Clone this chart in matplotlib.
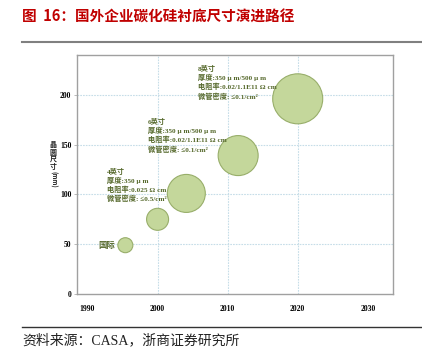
import matplotlib
matplotlib.use("Agg")
import matplotlib.pyplot as plt
from matplotlib.lines import Line2D

plt.rcParams['font.family'] = ['Noto Sans CJK SC', 'DejaVu Sans']

# === 数据 ===
years = [1995.4, 2000, 2004.1, 2011.5, 2020]
wafer_mm = [49, 75, 101, 139, 196]
bubble_r = [7.5, 11, 19, 20, 25]   # 气泡半径(px)
y_ticks = [0, 50, 100, 150, 200]
x_ticks = [1990, 2000, 2010, 2020, 2030]
x_grid = [2000, 2010, 2020]

title = "图  16：国外企业碳化硅衬底尺寸演进路径"
source = "资料来源：CASA，浙商证券研究所"
ylabel_chars = "晶圆尺寸"
notes = [
    ("4英寸\n厚度:350 μ m\n电阻率:0.025 Ω cm\n微管密度: ≤0.5/cm²", 1992.8, 127),
    ("6英寸\n厚度:350 μ m/500 μ m\n电阻率:0.02/1.1E11 Ω cm\n微管密度: ≤0.1/cm²", 1998.6, 177),
    ("8英寸\n厚度:350 μ m/500 μ m\n电阻率:0.02/1.1E11 Ω cm\n微管密度: ≤0.1/cm²", 2005.8, 230),
]

W, H = 422, 353
fig = plt.figure(figsize=(W / 100, H / 100), dpi=100)
ax = fig.add_axes([77 / W, 1 - 294 / H, (393 - 77) / W, (294 - 55) / H])

ax.set_xlim(1988.5, 2033.6)
ax.set_ylim(0, 240)

for y in y_ticks[1:]:
    ax.axhline(y, color='#c6dde8', lw=0.8, ls=(0, (1.5, 1)), zorder=0)
for x in x_grid:
    ax.axvline(x, color='#c6dde8', lw=0.8, ls=(0, (1.5, 1)), zorder=0)

sizes = [(2 * r * 0.72) ** 2 for r in bubble_r]
ax.scatter(years, wafer_mm, s=sizes, color='#c4d79b', edgecolor='#98ae6a',
           linewidth=0.8, zorder=3)

serif_bold = dict(family=['Liberation Serif', 'Noto Sans CJK SC'], fontweight='bold')
for txt, x, y in notes:
    ax.text(x, y, txt, fontsize=5.2, color='#56692c', va='top', ha='left',
            linespacing=1.3, zorder=4, **serif_bold)
ax.text(1992.8, 49, "国际", fontsize=6, color='#56692c', ha='center', va='center',
        fontweight='bold')

ax.set_xticks(x_ticks)
ax.set_yticks(y_ticks)
ax.set_xticklabels([str(v) for v in x_ticks], fontsize=5.5, **serif_bold)
ax.set_yticklabels([str(v) for v in y_ticks], fontsize=5.5, **serif_bold)
ax.tick_params(axis='x', length=0, pad=8)
ax.tick_params(axis='y', length=2, width=0.5, color='#a0a0a0', pad=2)
for sp in ax.spines.values():
    sp.set_color('#a0a0a0')
    sp.set_linewidth(1.0)

# y轴标题(竖排, 逐字放置)
for i, ch in enumerate(ylabel_chars):
    fig.text(53 / W, 1 - (145 + 7.2 * i) / H, ch, fontsize=5, ha='center',
             va='center', fontweight='bold', color='#222222')
fig.text(53 / W, 1 - 179.5 / H, "(mm)", fontsize=4.5, ha='center', va='center',
         rotation=-90, fontweight='bold', color='#222222')

# 标题与来源
fig.text(22 / W, 1 - 17 / H, title, fontsize=10.5, color='#c00000', fontweight='bold',
         ha='left', va='center')
fig.add_artist(Line2D([22 / W, 1], [1 - 42 / H, 1 - 42 / H], color='#808080', lw=1.5,
                      transform=fig.transFigure))
fig.add_artist(Line2D([22 / W, 1], [1 - 327 / H, 1 - 327 / H], color='#333333', lw=1.0,
                      transform=fig.transFigure))
fig.text(22 / W, 1 - 340 / H, source, fontsize=10, color='#222222', ha='left', va='center',
         family=['Liberation Serif', 'Noto Sans CJK SC'])

fig.savefig("out.png", dpi=100)
